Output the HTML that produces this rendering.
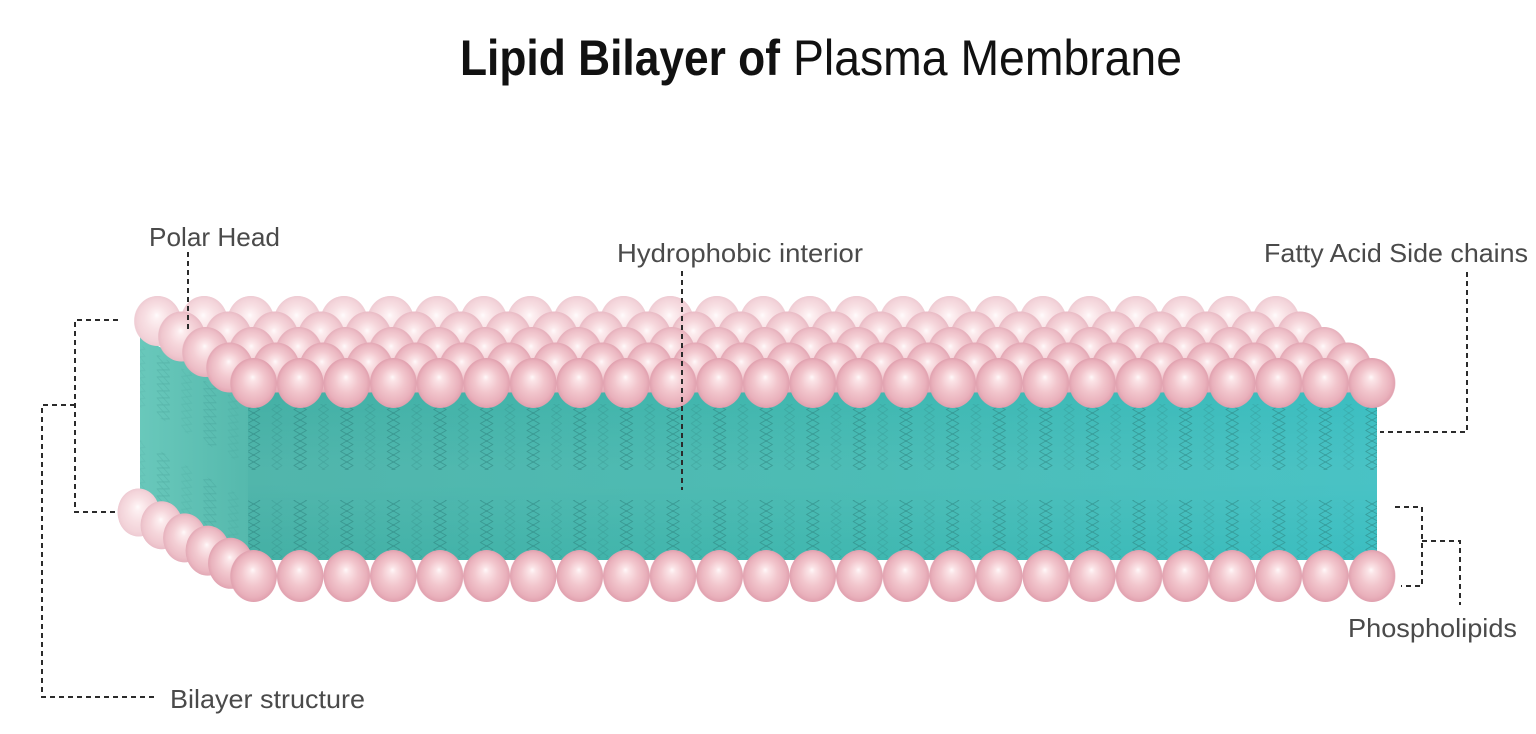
<!DOCTYPE html>
<html>
<head>
<meta charset="utf-8">
<style>
  html,body{margin:0;padding:0;background:#ffffff;}
  body{width:1536px;height:734px;overflow:hidden;}
  svg{display:block;}
</style>
</head>
<body>
<svg width="1536" height="734" viewBox="0 0 1536 734" xmlns="http://www.w3.org/2000/svg">
  <defs>
    <radialGradient id="gs" cx="0.5" cy="0.5" r="0.5" fx="0.48" fy="0.38">
      <stop offset="0" stop-color="#fff8f9"/>
      <stop offset="0.14" stop-color="#fbe4e7"/>
      <stop offset="0.5" stop-color="#f2c6cd"/>
      <stop offset="0.85" stop-color="#e9b0bb"/>
      <stop offset="1" stop-color="#e0a0ae"/>
    </radialGradient>
    <pattern id="sphT" patternUnits="userSpaceOnUse" width="46.6" height="60">
      <ellipse cx="23.3" cy="30" rx="23.3" ry="25" fill="url(#gs)"/>
    </pattern>
    <pattern id="sphTW" patternUnits="userSpaceOnUse" width="46.6" height="60">
      <ellipse cx="23.3" cy="30" rx="23.3" ry="25" fill="#ffffff"/>
    </pattern>
    <pattern id="sphB" patternUnits="userSpaceOnUse" width="46.6" height="60">
      <ellipse cx="23.3" cy="30" rx="23.3" ry="26" fill="url(#gs)"/>
    </pattern>
    <pattern id="tail" patternUnits="userSpaceOnUse" width="46.6" height="14">
      <g fill="none" stroke-width="1" stroke-linejoin="round">
        <path d="M23.3,0 L29.5,3.5 L23.3,7 L17.1,10.5 L23.3,14" stroke="#2a7b78" stroke-opacity="0.5"/>
        <path d="M23.3,0 L17.1,3.5 L23.3,7 L29.5,10.5 L23.3,14" stroke="#2a7b78" stroke-opacity="0.5"/>
        <path d="M0,0 L5,3.5 L0,7 L-5,10.5 L0,14" stroke="#2a7b78" stroke-opacity="0.22"/>
        <path d="M0,0 L-5,3.5 L0,7 L5,10.5 L0,14" stroke="#2a7b78" stroke-opacity="0.22"/>
        <path d="M46.6,0 L51.6,3.5 L46.6,7 L41.6,10.5 L46.6,14" stroke="#2a7b78" stroke-opacity="0.22"/>
        <path d="M46.6,0 L41.6,3.5 L46.6,7 L51.6,10.5 L46.6,14" stroke="#2a7b78" stroke-opacity="0.22"/>
      </g>
    </pattern>
    <linearGradient id="front" x1="0" y1="0" x2="1" y2="0">
      <stop offset="0" stop-color="#44b0a5"/>
      <stop offset="0.5" stop-color="#40b7af"/>
      <stop offset="1" stop-color="#3bbec1"/>
    </linearGradient>
    <linearGradient id="frontV" x1="0" y1="0" x2="0" y2="1">
      <stop offset="0" stop-color="#ffffff" stop-opacity="0"/>
      <stop offset="0.45" stop-color="#ffffff" stop-opacity="0.07"/>
      <stop offset="0.55" stop-color="#ffffff" stop-opacity="0.07"/>
      <stop offset="1" stop-color="#ffffff" stop-opacity="0"/>
    </linearGradient>
    <linearGradient id="left" x1="0" y1="0" x2="1" y2="0">
      <stop offset="0" stop-color="#69c8bb"/>
      <stop offset="1" stop-color="#55b9ad"/>
    </linearGradient>
    <clipPath id="lfclip">
      <polygon points="140,336 248,396 248,560 140,505"/>
    </clipPath>
  </defs>

  <!-- Title -->
  <text x="460" y="75" font-family="Liberation Sans, Arial, sans-serif" font-size="50" font-weight="bold" fill="#111111" textLength="320" lengthAdjust="spacingAndGlyphs">Lipid Bilayer of</text>
  <text x="793" y="75" font-family="Liberation Sans, Arial, sans-serif" font-size="50" fill="#111111" textLength="389" lengthAdjust="spacingAndGlyphs">Plasma Membrane</text>

  <!-- Left side face -->
  <polygon points="140,336 248,396 248,560 140,505" fill="url(#left)"/>
  <g clip-path="url(#lfclip)" opacity="0.35">
    <g transform="translate(140,0) skewY(29)">
      <rect x="0" y="345" width="110" height="62" fill="url(#tail)"/>
      <rect x="0" y="440" width="110" height="62" fill="url(#tail)"/>
    </g>
  </g>

  <!-- Front face -->
  <rect x="248" y="392" width="1129" height="168" fill="url(#front)"/>
  <rect x="248" y="392" width="1129" height="168" fill="url(#frontV)"/>
  <g transform="translate(230.3,0)">
    <rect x="18" y="404" width="1128.7" height="66" fill="url(#tail)"/>
    <rect x="18" y="500" width="1128.7" height="58" fill="url(#tail)"/>
  </g>

  <!-- Top rows of spheres (back to front) -->
  <g transform="translate(134.3,291)">
    <rect x="0" y="0" width="1165" height="60" fill="url(#sphT)"/>
    <rect x="0" y="0" width="1165" height="60" fill="url(#sphTW)" opacity="0.45"/>
  </g>
  <g transform="translate(158.3,306.5)">
    <rect x="0" y="0" width="1165" height="60" fill="url(#sphT)"/>
    <rect x="0" y="0" width="1165" height="60" fill="url(#sphTW)" opacity="0.28"/>
  </g>
  <g transform="translate(182.3,322)">
    <rect x="0" y="0" width="1165" height="60" fill="url(#sphT)"/>
    <rect x="0" y="0" width="1165" height="60" fill="url(#sphTW)" opacity="0.16"/>
  </g>
  <g transform="translate(206.3,337.5)">
    <rect x="0" y="0" width="1165" height="60" fill="url(#sphT)"/>
    <rect x="0" y="0" width="1165" height="60" fill="url(#sphTW)" opacity="0.07"/>
  </g>
  <g transform="translate(230.3,353)">
    <rect x="0" y="0" width="1165" height="60" fill="url(#sphT)"/>
  </g>

  <!-- Bottom-left diagonal spheres -->
  <g>
    <ellipse cx="138.6" cy="512.5" rx="21" ry="24" fill="url(#gs)"/>
    <ellipse cx="138.6" cy="512.5" rx="21" ry="24" fill="#ffffff" opacity="0.45"/>
    <ellipse cx="161.6" cy="525.2" rx="21" ry="24" fill="url(#gs)"/>
    <ellipse cx="161.6" cy="525.2" rx="21" ry="24" fill="#ffffff" opacity="0.3"/>
    <ellipse cx="184.6" cy="537.9" rx="21.5" ry="24.5" fill="url(#gs)"/>
    <ellipse cx="184.6" cy="537.9" rx="21.5" ry="24.5" fill="#ffffff" opacity="0.18"/>
    <ellipse cx="207.6" cy="550.6" rx="22" ry="25" fill="url(#gs)"/>
    <ellipse cx="207.6" cy="550.6" rx="22" ry="25" fill="#ffffff" opacity="0.1"/>
    <ellipse cx="230.6" cy="563.3" rx="22.5" ry="25.5" fill="url(#gs)"/>
    <ellipse cx="230.6" cy="563.3" rx="22.5" ry="25.5" fill="#ffffff" opacity="0.04"/>
  </g>

  <!-- Bottom front row -->
  <g transform="translate(230.3,546)">
    <rect x="0" y="0" width="1165" height="60" fill="url(#sphB)"/>
  </g>

  <!-- Leader lines -->
  <g fill="none" stroke="#2b2b2b" stroke-width="2" stroke-dasharray="5 4">
    <path d="M188,252 V331"/>
    <path d="M682,271 V490"/>
    <path d="M1467,272 V432 H1380"/>
    <path d="M118,320 H75 V512 H118"/>
    <path d="M75,405 H42 V697 H157"/>
    <path d="M1395,507 H1422 V586 H1401"/>
    <path d="M1422,541 H1460 V605"/>
  </g>

  <!-- Labels -->
  <g font-family="Liberation Sans, Arial, sans-serif" font-size="26" fill="#4a4a4a">
    <text x="149" y="246" textLength="131" lengthAdjust="spacingAndGlyphs">Polar Head</text>
    <text x="617" y="262" textLength="246" lengthAdjust="spacingAndGlyphs">Hydrophobic interior</text>
    <text x="1264" y="262" textLength="264" lengthAdjust="spacingAndGlyphs">Fatty Acid Side chains</text>
    <text x="1348" y="637" textLength="169" lengthAdjust="spacingAndGlyphs">Phospholipids</text>
    <text x="170" y="708" textLength="195" lengthAdjust="spacingAndGlyphs">Bilayer structure</text>
  </g>
</svg>
</body>
</html>
